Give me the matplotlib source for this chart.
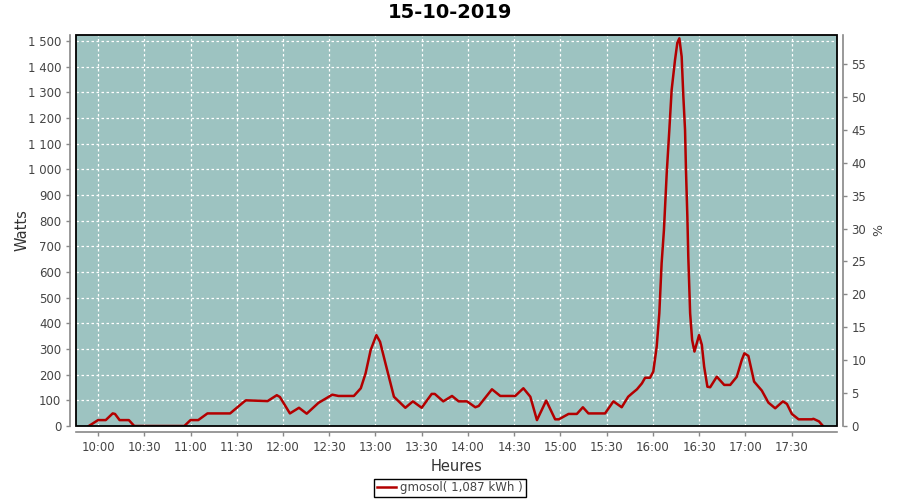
import matplotlib.pyplot as plt
from matplotlib.patches import Rectangle
from matplotlib.ticker import FuncFormatter, MultipleLocator

# minutes after midnight and power in watts
minutes = [594, 600, 605, 609.5, 611, 614, 620, 623.5, 656, 660, 665, 671, 685.7,
           694.8, 696, 710, 716, 718, 724.5, 730.4, 735.4, 743, 752, 756, 766,
           770.5, 773.6, 776.9, 780.6, 783, 786.5, 792, 799.4, 804.3, 810, 816.5,
           818.5, 824, 829.7, 834, 839.4, 844.8, 847, 855.6, 861, 870.7, 876,
           880.5, 884.8, 890.8, 896.6, 899, 905.3, 910.7, 914.6, 918.2, 929,
           934.4, 939.8, 944, 946.5, 949.7, 952.9, 955, 958.2, 960.3, 962.5,
           964.2, 965.7, 967.2, 969, 970.7, 972.2, 974.4, 975.9, 977.2, 978.7,
           979.8, 980.9, 981.5, 982.4, 983, 984.2, 985.5, 987, 990, 991.8, 993.3,
           995.4, 997.2, 1001.5, 1006.3, 1010.2, 1014.5, 1017.7, 1019.4, 1022,
           1025.7, 1030.7, 1035, 1039.4, 1044.4, 1047, 1050.2, 1054.6, 1063.2,
           1064.2, 1067.8, 1070.4]
watts = [0, 23, 23, 49, 47, 23, 23, 0, 0, 23, 23, 49, 49,
         95, 100, 97, 120, 113, 49, 71, 48, 90, 122, 117, 117,
         147, 205, 296, 354, 328, 244, 114, 71, 96, 71, 125,
         125, 96, 117, 96, 96, 73, 78, 143, 117, 117, 147,
         114, 23, 99, 26, 26, 47, 47, 73, 49, 49,
         96, 73, 114, 127, 143, 166, 188, 188, 212, 309,
         439, 634, 763, 984, 1153, 1309, 1426, 1493, 1510, 1439,
         1283, 1153, 997, 815, 660, 439, 335, 290, 354, 316, 231,
         153, 151, 192, 160, 160, 192, 257, 283, 273,
         173, 138, 91, 69, 96, 86, 47, 26, 26,
         28, 18, 0]

title = "15-10-2019"
legend_label = "gmosol( 1,087 kWh )"

bg = "#9dc3c1"
line_color = "#b30000"
tick_color = "#444444"

fig = plt.figure(figsize=(9, 5), dpi=100)
ax = fig.add_axes([76 / 900, 74 / 500, 761 / 900, 391 / 500])
ax.set_facecolor(bg)

ax.plot(minutes, watts, color=line_color, lw=1.8, label=legend_label)

ax.set_xlim(585.7, 1079.5)
ax.set_ylim(0, 1523)
ax.xaxis.set_major_locator(MultipleLocator(30))
ax.yaxis.set_major_locator(MultipleLocator(100))
ax.xaxis.set_major_formatter(FuncFormatter(lambda v, p: "%d:%02d" % (v // 60, v % 60)))
ax.yaxis.set_major_formatter(FuncFormatter(lambda v, p: "{:,}".format(int(v)).replace(",", " ")))
ax.grid(True, color="white", ls=(0, (2, 2)), lw=0.9)

ax2 = ax.twinx()
ax2.set_ylim(0, 59.4)
ax2.yaxis.set_major_locator(MultipleLocator(5))
ax2.set_ylabel("%", fontsize=9, color=tick_color)

for a in (ax, ax2):
    for s in a.spines.values():
        s.set_visible(False)
    a.tick_params(colors="#888888", labelcolor=tick_color, labelsize=8.5, length=3, width=1)

ax.spines["left"].set_visible(True)
ax.spines["left"].set_position(("outward", 4))
ax.spines["bottom"].set_visible(True)
ax.spines["bottom"].set_position(("outward", 4))
ax2.spines["right"].set_visible(True)
ax2.spines["right"].set_position(("outward", 4))
for s in (ax.spines["left"], ax.spines["bottom"], ax2.spines["right"]):
    s.set_color("#888888")
    s.set_linewidth(1.2)

ax2.add_patch(Rectangle((0, 0), 1, 1, transform=ax.transAxes, fill=False,
                        edgecolor="black", lw=1.3, clip_on=False, zorder=10))

ax.set_xlabel("Heures", fontsize=10.5, color="#333333", labelpad=4)
ax.set_ylabel("Watts", fontsize=10.5, color="#333333")
ax.yaxis.set_label_coords(-0.061, 0.5)
fig.suptitle(title, fontsize=14, fontweight="bold", y=0.995)

leg = fig.legend(loc="center", bbox_to_anchor=(0.5, 0.024), fontsize=8.5,
                 fancybox=False, framealpha=1, edgecolor="black",
                 handlelength=1.6, borderpad=0.25, handletextpad=0.4)
leg.get_frame().set_linewidth(1)
for t in leg.get_texts():
    t.set_color(tick_color)

fig.savefig("out.png", dpi=100)
plt.close()
